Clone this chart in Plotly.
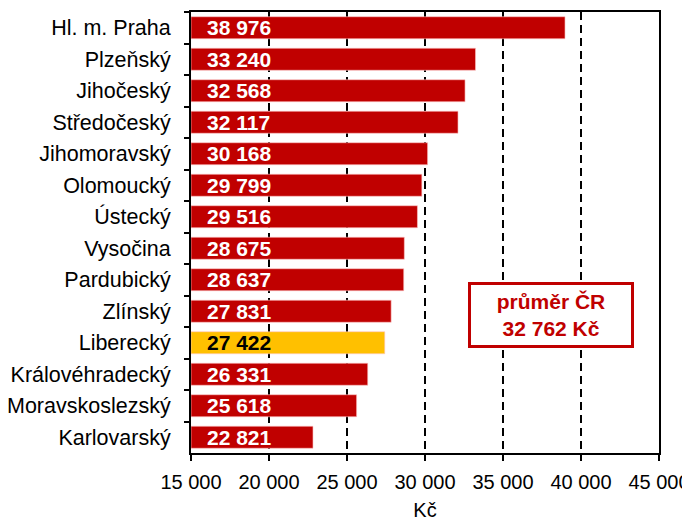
import plotly.graph_objects as go

regions = ["Hl. m. Praha", "Plzeňský", "Jihočeský", "Středočeský", "Jihomoravský",
           "Olomoucký", "Ústecký", "Vysočina", "Pardubický", "Zlínský", "Liberecký",
           "Královéhradecký", "Moravskoslezský", "Karlovarský"]
wages = [38976, 33240, 32568, 32117, 30168, 29799, 29516, 28675, 28637, 27831,
         27422, 26331, 25618, 22821]
highlight = "Liberecký"
avg_cr = 32762
x_ticks = [15000, 20000, 25000, 30000, 35000, 40000, 45000]

def fmt(v):
    return f"{v:,}".replace(",", " ")

RED = "#C00000"
YEL = "#FFC000"
FONT = "Arial, Liberation Sans, sans-serif"

colors = [YEL if r == highlight else RED for r in regions]

fig = go.Figure()
fig.add_trace(go.Bar(
    y=regions, x=[w - 15000 for w in wages], base=15000, orientation="h",
    marker=dict(color=colors, line=dict(color="rgba(255,200,200,0.6)", width=1)),
    width=0.7, hoverinfo="skip",
))

for r, w in zip(regions, wages):
    fig.add_annotation(
        x=15000, y=r, text=f"<b>{fmt(w)}</b>", showarrow=False,
        xanchor="left", yanchor="middle", xshift=14,
        font=dict(family=FONT, size=21, color="black" if r == highlight else "white"),
    )

fig.add_annotation(
    x=38050, y=9.12, text=f"<b>průměr ČR<br>{fmt(avg_cr)} Kč</b>", showarrow=False,
    xanchor="center", yanchor="middle",
    font=dict(family=FONT, size=21, color=RED),
    bordercolor=RED, borderwidth=3, bgcolor="white", borderpad=5, width=150,
    align="center",
)

# page body has an 8px margin: shrink the figure so the plot lands where the reference's does
fig.update_layout(
    width=682, height=513,
    margin=dict(l=183, r=31, t=4, b=68),
    paper_bgcolor="white", plot_bgcolor="white",
    showlegend=False,
    font=dict(family=FONT, size=20, color="black"),
    bargap=0.3,
)
fig.update_xaxes(
    range=[15000, 45000], tickvals=x_ticks, ticktext=[fmt(t) for t in x_ticks],
    showgrid=True, gridcolor="black", gridwidth=2, griddash="8px,5px",
    showline=True, linecolor="black", linewidth=2, mirror=True,
    ticks="outside", ticklen=6, tickwidth=2, tickcolor="black",
    title=dict(text="Kč", font=dict(size=20), standoff=16),
    tickfont=dict(size=20), zeroline=False, automargin=False,
    ticklabelstandoff=4,
)
fig.update_yaxes(
    categoryorder="array", categoryarray=regions, autorange="reversed",
    showline=True, linecolor="black", linewidth=2, mirror=True,
    ticks="outside", ticklen=5, tickwidth=2, tickcolor="black",
    tickson="boundaries", showgrid=False, ticklabelstandoff=14,
    tickfont=dict(size=21.5), automargin=False,
)

fig.write_html("out.html")
